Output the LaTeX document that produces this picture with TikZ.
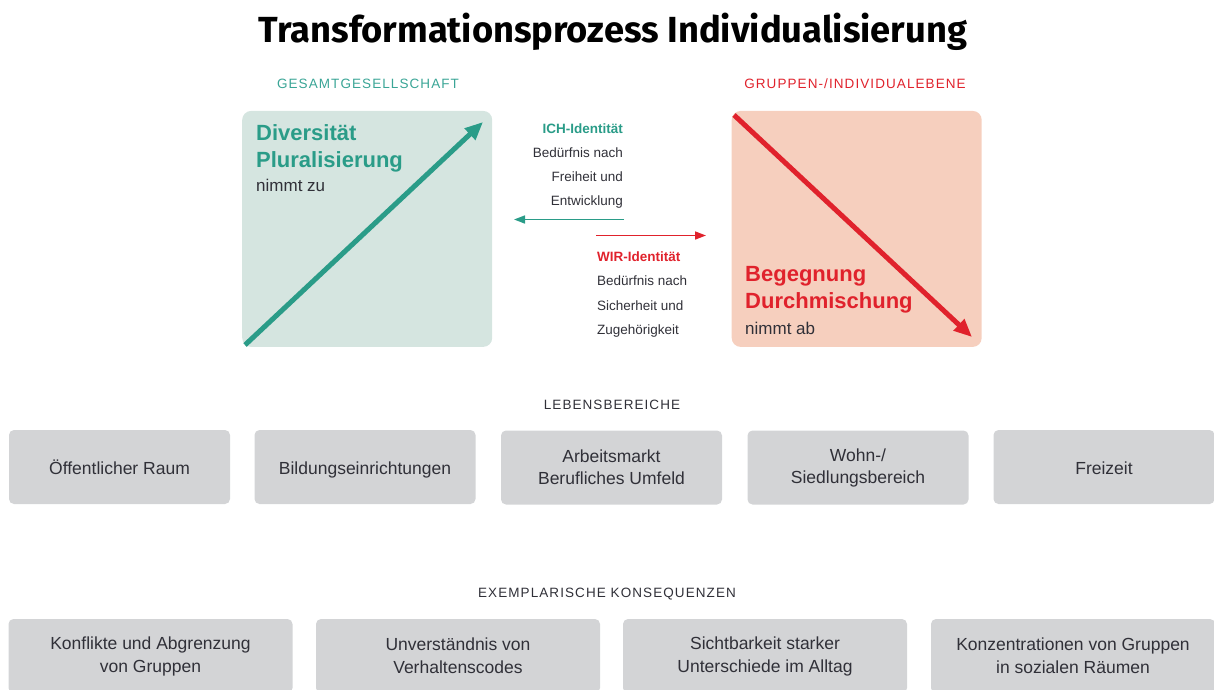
\documentclass[tikz,border=0pt]{standalone}
\usepackage{fontspec}
\setmainfont{Liberation Sans}
\newfontfamily\titlefont{Fira Sans}
\newfontfamily\capsfont[LetterSpace=8]{Liberation Sans}
\usetikzlibrary{arrows.meta}
\definecolor{tealA}{HTML}{2A9C88}
\definecolor{tealH}{HTML}{3AA596}
\definecolor{tealbg}{HTML}{D5E5E0}
\definecolor{redA}{HTML}{E0222C}
\definecolor{redbg}{HTML}{F6CFBE}
\definecolor{grbox}{HTML}{D3D4D6}
\definecolor{txt}{HTML}{303038}
\tikzset{
  bigbox/.style={rounded corners=9pt, minimum width=250pt, minimum height=236pt, inner sep=0pt},
  lbox/.style={fill=grbox, rounded corners=5pt, minimum width=221pt, minimum height=74pt, inner sep=0pt, align=center, text=txt, font=\fontsize{17.5}{22}\selectfont},
  oneline/.style={text height=15.5pt, text depth=0.5pt},
  kbox/.style={fill=grbox, rounded corners=5pt, minimum width=284pt, minimum height=74pt, inner sep=0pt, align=center, text=txt, font=\fontsize{17.5}{23}\selectfont},
  head/.style={inner sep=0pt, font=\capsfont\fontsize{13.5}{14}\selectfont},
  bigtxt/.style={inner sep=0pt, anchor=base west, font=\bfseries\fontsize{22}{24}\selectfont},
  smtxt/.style={inner sep=0pt, anchor=base west, text=txt, font=\fontsize{17}{20}\selectfont},
  midtxt/.style={inner sep=0pt, text=txt, font=\fontsize{13.5}{15}\selectfont},
  diag/.style={line width=5pt, -{Triangle[length=18pt,width=15pt]}},
  thin/.style={line width=1.6pt, -{Triangle[length=11pt,width=8pt]}}
}
\begin{document}
\begin{tikzpicture}[x=1pt,y=-1pt]
\useasboundingbox (0,0) rectangle (1214,689);
% title
\node[inner sep=0pt, anchor=base] (title) at (613,42) {\titlefont\bfseries\fontsize{36.3}{40}\selectfont Transformationsprozess Individualisierung};
% headers
\node[head, text=tealH, anchor=base] (hg) at (368,88) {GESAMTGESELLSCHAFT};
\node[head, text=redA, anchor=base] (hr) at (855,88) {GRUPPEN-/INDIVIDUALEBENE};
% big boxes
\node[bigbox, fill=tealbg] (tb) at (367.2,228.9) {};
\node[bigbox, fill=redbg] (rb) at (856.7,228.9) {};
% diagonal arrows
\coordinate (ts) at (245,345);
\coordinate (te) at (483,122);
\coordinate (rs) at (734,115);
\coordinate (re) at (972,337);
\draw[diag, tealA] (ts) -- (te);
\draw[diag, redA] (rs) -- (re);
% teal box text
\node[bigtxt, text=tealA] (d1) at (256,140) {Diversität};
\node[bigtxt, text=tealA] (d2) at (256,167) {Pluralisierung};
\node[smtxt] (d3) at (256,191) {nimmt zu};
% red box text
\node[bigtxt, text=redA] (b1) at (745,281) {Begegnung};
\node[bigtxt, text=redA] (b2) at (745,308) {Durchmischung};
\node[smtxt] (b3) at (745,334) {nimmt ab};
% middle texts
\node[midtxt, anchor=base east, text=tealA, font=\bfseries\fontsize{13.5}{15}\selectfont] (i1) at (623,133) {ICH-Identität};
\node[midtxt, anchor=base east] (i2) at (623,157) {Bedürfnis nach};
\node[midtxt, anchor=base east] (i3) at (623,181) {Freiheit und};
\node[midtxt, anchor=base east] (i4) at (623,205) {Entwicklung};
\coordinate (ia) at (624,219.5);
\coordinate (ib) at (514,219.5);
\draw[thin, tealA] (ia) -- (ib);
\coordinate (wa) at (596,235.5);
\coordinate (wb) at (706,235.5);
\draw[thin, redA] (wa) -- (wb);
\node[midtxt, anchor=base west, text=redA, font=\bfseries\fontsize{13.5}{15}\selectfont] (w1) at (597,261) {WIR-Identität};
\node[midtxt, anchor=base west] (w2) at (597,285.5) {Bedürfnis nach};
\node[midtxt, anchor=base west] (w3) at (597,310) {Sicherheit und};
\node[midtxt, anchor=base west] (w4) at (597,334.5) {Zugehörigkeit};
% Lebensbereiche
\node[head, text=txt, anchor=base] (lh) at (612,409) {LEBENSBEREICHE};
\node[lbox, oneline] (l1) at (119.5,467) {Öffentlicher Raum};
\node[lbox, oneline] (l2) at (365,467) {Bildungseinrichtungen};
\node[lbox] (l3) at (611.5,467.5) {Arbeitsmarkt\\Berufliches Umfeld};
\node[lbox] (l4) at (858,467.5) {Wohn-/\\Siedlungsbereich};
\node[lbox, oneline] (l5) at (1104,467) {Freizeit};
% Konsequenzen
\node[head, text=txt, anchor=base] (kh) at (607,597) {EXEMPLARISCHE KONSEQUENZEN};
\node[kbox] (k1) at (150.5,656) {Konflikte und Abgrenzung\\von Gruppen};
\node[kbox] (k2) at (458,656) {Unverständnis von\\Verhaltenscodes};
\node[kbox] (k3) at (765,656) {Sichtbarkeit starker\\Unterschiede im Alltag};
\node[kbox] (k4) at (1073,656) {Konzentrationen von Gruppen\\in sozialen Räumen};
\end{tikzpicture}
\end{document}
